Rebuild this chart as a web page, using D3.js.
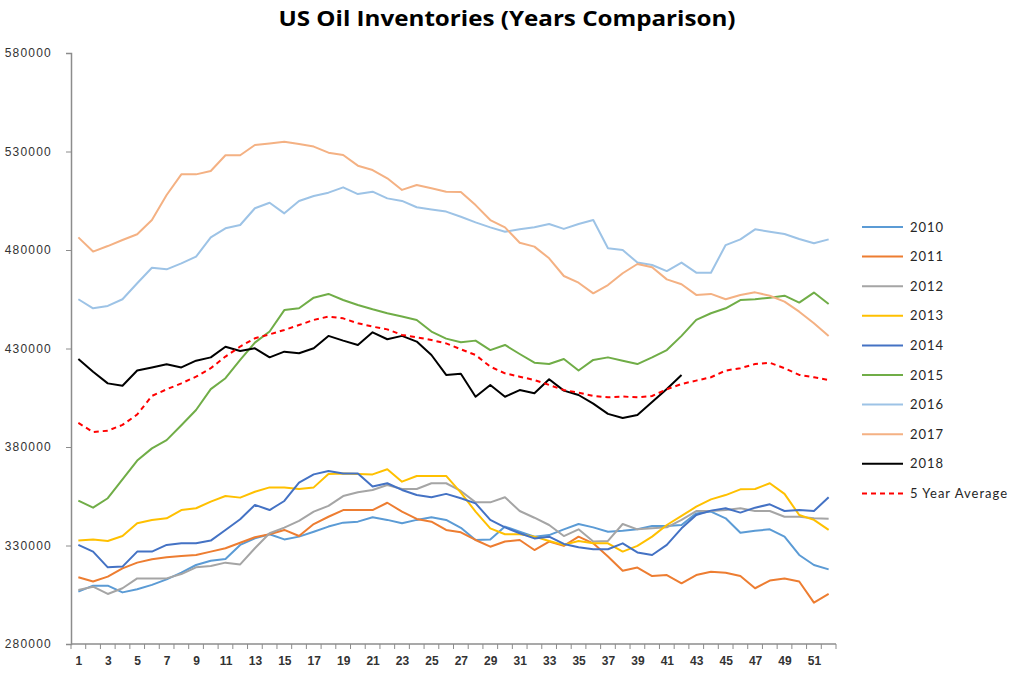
<!DOCTYPE html>
<html>
<head>
<meta charset="utf-8">
<script src="https://cdn.jsdelivr.net/npm/d3@7"></script>
<style>
  body { margin: 0; background: #fff; }
  svg { font-family: Lato, "Open Sans", sans-serif; }
  .axis path, .axis line { stroke: #8c8c8c; }
  .axis text { fill: #333; }
</style>
</head>
<body>
<svg id="chart" width="1011" height="674"></svg>
<script>
// weeks 1..52
const weeks = d3.range(1, 53);
const yTicks = [280000, 330000, 380000, 430000, 480000, 530000, 580000];

const s2010 = [306600, 309600, 309600, 306200, 307800, 310000, 312800, 316200, 320100, 322300, 323100, 330300, 333600, 335700, 333100, 334500, 337000, 339600, 341600, 342100, 344300, 343000, 341300, 343000, 344300, 343000, 339000, 332800, 333100, 339600, 337000, 334500, 335300, 338200, 340900, 339200, 337000, 337500, 338200, 339900, 339900, 340400, 346300, 347200, 343800, 336500, 337500, 338200, 334500, 325200, 320100, 317900];
const s2011 = [313900, 311700, 314200, 318400, 321300, 323000, 324000, 324700, 325200, 326900, 328600, 331400, 334200, 335700, 337900, 334800, 340900, 344600, 348000, 348000, 348000, 351700, 347200, 343500, 342100, 337900, 336700, 332800, 329400, 332000, 332800, 327700, 332000, 329800, 334500, 331100, 324400, 317200, 318800, 314500, 315000, 310800, 315000, 316700, 316200, 314500, 308300, 312200, 313300, 311700, 301000, 305400];
const s2012 = [307400, 309100, 305400, 308300, 313300, 313300, 313300, 315500, 318900, 319600, 321300, 320400, 328600, 336200, 339100, 342500, 347200, 350100, 355100, 357000, 358200, 360700, 358700, 358700, 361600, 361600, 357700, 351900, 351900, 354500, 347500, 344100, 340400, 334800, 338200, 332000, 332300, 340900, 338200, 338700, 339200, 343000, 347500, 347500, 348000, 348900, 347500, 347500, 344600, 344600, 343800, 343600];
const s2013 = [332500, 333100, 332300, 334800, 341300, 342900, 343800, 348000, 348900, 352300, 355100, 354300, 357300, 359500, 359500, 358700, 359500, 366300, 366600, 366300, 366100, 368700, 362400, 365300, 365300, 365300, 356800, 347200, 338700, 335700, 335700, 334500, 332300, 330300, 332300, 331100, 331100, 326900, 329800, 334500, 340400, 345000, 349700, 353400, 355600, 358500, 358700, 361600, 356200, 345500, 343000, 337900];
const s2014 = [330300, 326900, 318900, 319300, 326900, 326900, 330300, 331100, 331100, 332500, 337900, 343300, 350600, 348000, 352600, 361900, 366100, 367800, 366600, 366600, 359900, 361600, 358200, 355600, 354500, 356200, 354000, 351400, 343000, 339200, 336200, 333600, 334500, 330800, 329100, 328100, 328100, 331100, 326500, 325200, 330300, 338700, 345500, 347700, 348900, 346700, 349200, 350900, 347500, 348000, 347500, 354500];
const s2015 = [352800, 349200, 354000, 363600, 373100, 379300, 383500, 391000, 398800, 409400, 414900, 424200, 433000, 438600, 449500, 450400, 455800, 457700, 454600, 452100, 449900, 447900, 446200, 444500, 438600, 435000, 433200, 434000, 429200, 431800, 427200, 422800, 422100, 424700, 418800, 424200, 425500, 423800, 422100, 425500, 429200, 436400, 444500, 447900, 450400, 454600, 455000, 455800, 456800, 453300, 458400, 452600];
const s2016 = [455000, 450400, 451600, 455000, 463100, 471000, 470200, 473200, 476600, 486400, 491000, 492700, 501200, 504000, 498600, 504900, 507400, 509100, 511800, 508400, 509600, 506200, 504900, 501700, 500600, 499500, 496900, 494000, 491500, 489300, 490500, 491500, 493200, 490700, 493200, 495200, 480900, 480000, 473600, 472400, 469300, 473600, 468500, 468500, 482500, 485400, 490500, 489300, 488100, 485600, 483400, 485400];
const s2017 = [486400, 479200, 482000, 485100, 488000, 495200, 507900, 518400, 518400, 520100, 528100, 528100, 533300, 534100, 535000, 533800, 532500, 529400, 528200, 522800, 520600, 516400, 510500, 513000, 511300, 509600, 509500, 502800, 495200, 491500, 483700, 481700, 475800, 466800, 463400, 458000, 462200, 468200, 472900, 471200, 465100, 462600, 457200, 457700, 455000, 457200, 458500, 456800, 453800, 448700, 442800, 436400];
const s2018 = [424700, 418200, 412300, 411100, 418800, 420400, 422000, 420400, 423800, 425500, 430900, 428700, 430100, 425500, 428400, 427600, 430100, 436400, 434000, 431800, 438200, 434700, 436400, 433500, 426700, 416600, 417200, 405500, 411500, 405500, 408900, 407300, 414400, 408600, 406400, 402000, 396800, 394700, 396200, 402800, 409400, 416500];
const avg5 = [392200, 387600, 388300, 391200, 396500, 405900, 409300, 412300, 415700, 420000, 425900, 431000, 435200, 437200, 439400, 441900, 444500, 446200, 445300, 442800, 441100, 439700, 436900, 435700, 434300, 432600, 429600, 426700, 420800, 417400, 415700, 414000, 411500, 408900, 407600, 405900, 405200, 405600, 405200, 405900, 409300, 412000, 413700, 415400, 418800, 420000, 422100, 422800, 420000, 416600, 415400, 414000];

const series = [
  { name: "2010", values: s2010, color: "#5b9bd5" },
  { name: "2011", values: s2011, color: "#ed7d31" },
  { name: "2012", values: s2012, color: "#a5a5a5" },
  { name: "2013", values: s2013, color: "#ffc000" },
  { name: "2014", values: s2014, color: "#4472c4" },
  { name: "2015", values: s2015, color: "#70ad47" },
  { name: "2016", values: s2016, color: "#9dc3e6" },
  { name: "2017", values: s2017, color: "#f4b183" },
  { name: "2018", values: s2018, color: "#000000" },
  { name: "5 Year Average", values: avg5, color: "#ff0000", dash: "5,4" }
];

const svg = d3.select("#chart");
const plotLeft = 71, plotRight = 836, plotTop = 53, plotBottom = 644;

const x = d3.scalePoint().domain(weeks).range([plotLeft, plotRight]).padding(0.5);
const xb = d3.scaleBand().domain(weeks).range([plotLeft, plotRight]);
const y = d3.scaleLinear().domain([280000, 580000]).range([plotBottom, plotTop]);

// title
svg.append("text")
  .attr("x", 507).attr("y", 26)
  .attr("text-anchor", "middle")
  .attr("font-family", "'Open Sans', Lato, sans-serif")
  .attr("font-size", "22px").attr("font-weight", "bold")
  .attr("fill", "#000")
  .attr("textLength", 457).attr("lengthAdjust", "spacingAndGlyphs")
  .text("US Oil Inventories (Years Comparison)");

// y axis
const yAxis = svg.append("g")
  .attr("class", "axis")
  .attr("transform", `translate(${plotLeft},0)`)
  .call(d3.axisLeft(y).tickValues(yTicks).tickSize(5).tickPadding(14).tickFormat(d => d));
yAxis.select(".domain").attr("stroke-width", 1.5);
yAxis.selectAll("text").attr("font-size", "12px").attr("letter-spacing", "1.2px");

// x axis: labels on odd weeks, tick marks between categories
const xAxis = svg.append("g")
  .attr("class", "axis")
  .attr("transform", `translate(0,${plotBottom})`)
  .call(d3.axisBottom(x).tickValues(weeks.filter(w => w % 2 === 1)).tickSize(0).tickPadding(12));
xAxis.select(".domain").attr("d", `M${plotLeft},0H${plotRight}`).attr("stroke-width", 1.5);
xAxis.selectAll("text").attr("font-size", "12px").attr("font-weight", "bold").attr("fill", "#222");
xAxis.selectAll(".cat-tick")
  .data(weeks.map(w => xb(w)).concat([xb(weeks[weeks.length - 1]) + xb.bandwidth()]))
  .join("line")
  .attr("class", "cat-tick")
  .attr("x1", d => d).attr("x2", d => d)
  .attr("y1", 0).attr("y2", 5)
  .attr("stroke", "#8c8c8c");

// lines
const line = d3.line()
  .x((d, i) => x(weeks[i]))
  .y(d => y(d));

svg.append("g").selectAll("path")
  .data(series)
  .join("path")
  .attr("d", d => line(d.values))
  .attr("fill", "none")
  .attr("stroke", d => d.color)
  .attr("stroke-width", 2)
  .attr("stroke-dasharray", d => d.dash || null)
  .attr("stroke-linejoin", "round");

// legend
const legend = svg.append("g").attr("transform", "translate(862,227)");
const rows = legend.selectAll("g")
  .data(series)
  .join("g")
  .attr("transform", (d, i) => `translate(0,${i * 29.6})`);
rows.append("line")
  .attr("x1", 0).attr("x2", 41)
  .attr("stroke", d => d.color)
  .attr("stroke-width", 2)
  .attr("stroke-dasharray", d => d.dash || null);
rows.append("text")
  .attr("x", 48).attr("y", 4.5)
  .attr("font-size", "13px")
  .attr("letter-spacing", "1px")
  .attr("fill", "#262626")
  .text(d => d.name);
</script>
</body>
</html>
